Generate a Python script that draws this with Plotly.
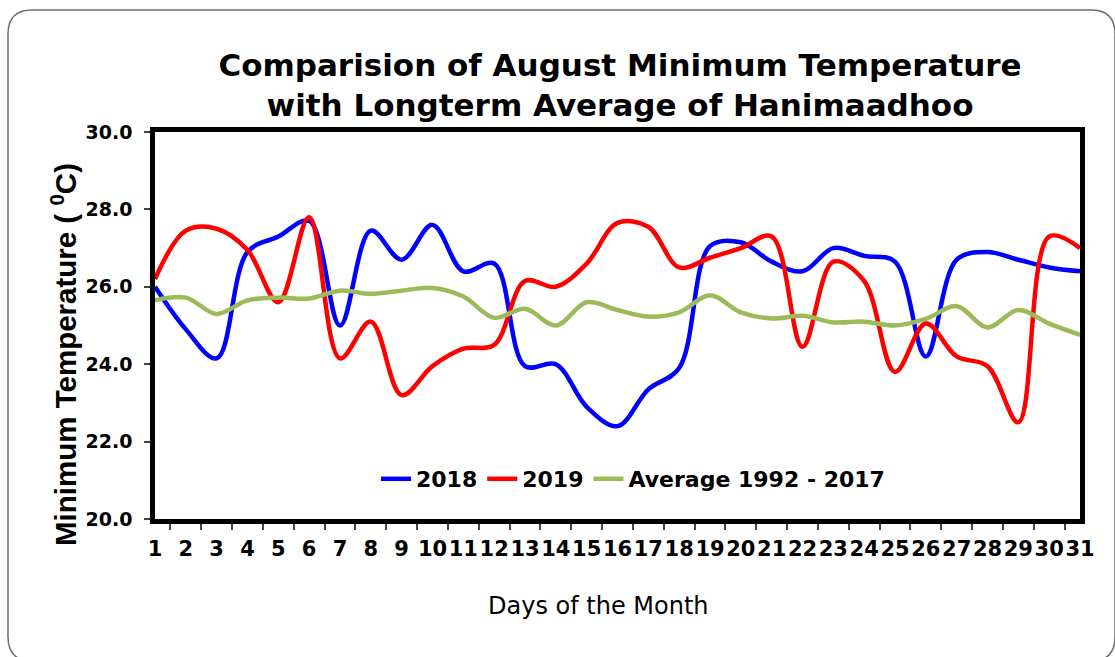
import plotly.graph_objects as go

W, H = 1115, 657
# plot area in pixels
L, R, T, B = 155, 1080, 132, 519

days = [str(d) for d in range(1, 32)]

t2018 = [26.0, 24.9, 24.15, 26.9, 27.3, 27.7, 25.0, 27.45, 26.7, 27.6, 26.4,
         26.6, 23.95, 24.0, 22.9, 22.4, 23.35, 23.9, 27.05, 27.15, 26.65,
         26.4, 27.0, 26.8, 26.65, 24.2, 26.7, 26.9, 26.7, 26.5, 26.4]

t2019 = [26.2, 27.45, 27.5, 26.95, 25.6, 27.8, 24.15, 25.1, 23.2, 23.95, 24.4,
         24.5, 26.15, 26.0, 26.6, 27.65, 27.55, 26.5, 26.75, 27.0, 27.3,
         24.45, 26.65, 26.15, 23.8, 25.05, 24.2, 23.95, 22.5, 27.3, 27.0]

avg = [25.65, 25.72, 25.3, 25.65, 25.72, 25.7, 25.9, 25.82, 25.9, 25.97, 25.75,
       25.2, 25.43, 25.0, 25.6, 25.4, 25.23, 25.34, 25.78, 25.34, 25.18,
       25.25, 25.08, 25.1, 25.0, 25.17, 25.5, 24.95, 25.4, 25.05, 24.76]

SERIES = [
    ('2018', t2018, '#0000FF'),
    ('2019', t2019, '#FF0000'),
    ('Average 1992 - 2017', avg, '#9BBB59'),
]

BOLD = 'DejaVu Sans'


def px(x):
    return (x - L) / (R - L)


def py(y):
    return (B - y) / (B - T)


fig = go.Figure()
for name, vals, color in SERIES:
    fig.add_trace(go.Scatter(
        x=days, y=vals, name=name, mode='lines',
        line=dict(color=color, width=4.5, shape='spline', smoothing=1.0),
    ))

# rounded outer frame
x0, x1, y0, y1, r = 8, 1115, 10, 661, 24
frame = (f'M {px(x0 + r)} {py(y0)} L {px(x1 - r)} {py(y0)} '
         f'Q {px(x1)} {py(y0)} {px(x1)} {py(y0 + r)} '
         f'L {px(x1)} {py(y1 - r)} Q {px(x1)} {py(y1)} {px(x1 - r)} {py(y1)} '
         f'L {px(x0 + r)} {py(y1)} Q {px(x0)} {py(y1)} {px(x0)} {py(y1 - r)} '
         f'L {px(x0)} {py(y0 + r)} Q {px(x0)} {py(y0)} {px(x0 + r)} {py(y0)} Z')
fig.add_shape(type='path', xref='paper', yref='paper', path=frame,
              line=dict(color='#6e6e6e', width=1.5))

fig.add_annotation(
    text='Minimum Temperature ( <sup>0</sup>C)', textangle=-90,
    xref='paper', yref='paper', x=px(63), y=py(355), showarrow=False,
    xanchor='center', yanchor='middle',
    font=dict(family='Liberation Sans', size=29.5, color='black', weight='bold'),
)
fig.add_annotation(
    text='Days of the Month',
    xref='paper', yref='paper', x=px(598), y=py(606), showarrow=False,
    xanchor='center', yanchor='middle',
    font=dict(family='DejaVu Sans', size=24, color='black'),
)

fig.update_layout(
    width=W, height=H,
    margin=dict(l=L, r=W - R, t=T, b=H - B),
    paper_bgcolor='white', plot_bgcolor='white',
    title=dict(text='Comparision of August Minimum Temperature<br>with Longterm Average of Hanimaadhoo',
               x=620 / W, xanchor='center', y=1 - 76 / H, yanchor='middle',
               font=dict(family=BOLD, size=31, color='black', weight='bold')),
    showlegend=True,
    legend=dict(orientation='h', x=px(633), xanchor='center', y=py(479), yanchor='middle',
                bgcolor='rgba(0,0,0,0)',
                font=dict(family=BOLD, size=22, color='black', weight='bold')),
    xaxis=dict(type='category', tickson='boundaries', ticks='outside', ticklen=6,
               tickwidth=1.5, tickcolor='#444', tickangle=0, ticklabelstandoff=7,
               showline=True, linecolor='black', linewidth=4.5, mirror=True,
               showgrid=False, zeroline=False,
               tickfont=dict(family=BOLD, size=21, color='black', weight='bold')),
    yaxis=dict(range=[20, 30], tickvals=[20, 22, 24, 26, 28, 30], tickformat='.1f',
               ticks='outside', ticklen=6, tickwidth=1.5, tickcolor='#444',
               ticklabelstandoff=8,
               showline=True, linecolor='black', linewidth=4.5, mirror=True,
               showgrid=False, zeroline=False,
               tickfont=dict(family=BOLD, size=19, color='black', weight='bold')),
)

fig.write_html('out.html', config={'displayModeBar': False},
               post_script="document.body.style.margin='0';")
